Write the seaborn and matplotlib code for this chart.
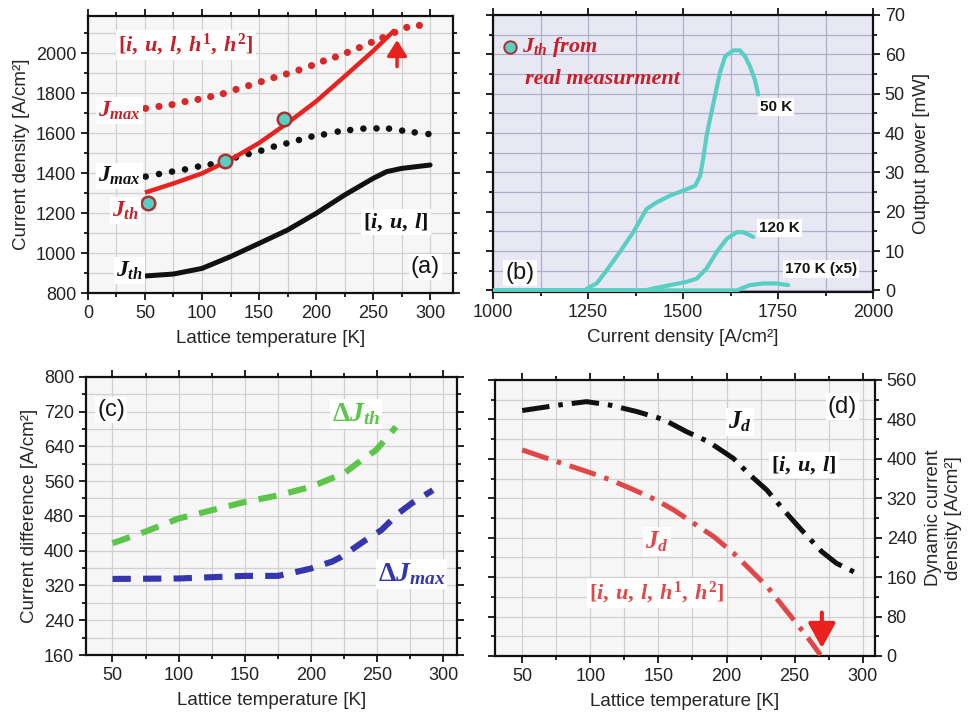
import matplotlib
matplotlib.use("Agg")
import matplotlib.pyplot as plt
from matplotlib.ticker import MultipleLocator
import seaborn as sns

# ---------------- (a) current density vs lattice temperature ----------------
# dotted J_max, model [i, u, l, h1, h2]
a_T_jmax_h = [50.6, 62.3, 73.7, 85.1, 96.5, 107.6, 118.7, 129.8, 140.9, 152, 163, 174,
              185, 196, 206.4, 217, 227.5, 238, 248.5, 258.5, 269, 279.5, 290.6]
a_jmax_h = [1723, 1733, 1742, 1757, 1768, 1782, 1797, 1818, 1837, 1857, 1877, 1895,
            1915, 1937, 1960, 1980, 2003, 2027, 2053, 2077, 2103, 2128, 2138]
# dotted J_max, model [i, u, l]
a_T_jmax_l = [50.6, 62.3, 73.7, 85.1, 96.5, 107.6, 118.7, 129.8, 140.9, 152, 163, 174,
              185, 196, 207, 219, 230, 241.5, 253, 264, 275.5, 286.5, 298.5]
a_jmax_l = [1382, 1395, 1407, 1418, 1432, 1443, 1460, 1478, 1495, 1512, 1532, 1548,
            1565, 1582, 1593, 1607, 1615, 1622, 1623, 1622, 1612, 1603, 1595]
# solid J_th, model [i, u, l, h1, h2]
a_T_jth_h = [50, 75, 100, 125, 150, 175, 200, 225, 250, 269]
a_jth_h = [1302, 1348, 1398, 1467, 1550, 1650, 1758, 1883, 2010, 2115]
# solid J_th, model [i, u, l]
a_T_jth_l = [50, 75, 100, 125, 150, 175, 200, 225, 250, 262, 275, 300]
a_jth_l = [885, 895, 923, 982, 1048, 1115, 1198, 1290, 1373, 1407, 1423, 1440]
# measured thresholds
meas_T = [53, 120, 172]
meas_J = [1248, 1461, 1670]

# ---------------- (b) output power vs current density ----------------
b_j50 = [1000, 1240, 1255, 1273, 1299, 1334, 1369, 1404, 1431, 1466, 1501, 1532, 1545,
         1553, 1562, 1571, 1584, 1597, 1611, 1632, 1650, 1663, 1676, 1689, 1698]
b_p50 = [0, 0, 0.9, 1.8, 5.1, 9.8, 14.8, 20.7, 22.4, 24.1, 25.4, 26.6, 29.1,
         33.4, 39.3, 43.5, 49.4, 55.3, 59.5, 61.0, 61.0, 59.5, 57.0, 53.6, 49.8]
b_j120 = [1000, 1400, 1422, 1466, 1510, 1536, 1562, 1589, 1615, 1641, 1659, 1685]
b_p120 = [0, 0, 0.5, 1.35, 2.2, 3.0, 5.6, 9.8, 13.1, 14.8, 14.8, 13.6]
b_j170 = [1000, 1641, 1676, 1711, 1747, 1777]
b_p170 = [0, 0, 1.35, 1.77, 1.77, 1.35]

# ---------------- (c) current difference ----------------
c_T_th = [50, 75, 100, 125, 150, 175, 200, 225, 238, 249, 262, 264]
c_dth = [417, 444, 474, 493, 512, 527, 547, 578, 608, 631, 677, 685]
c_T_max = [50, 100, 150, 175, 190, 200, 216, 223, 241, 253, 266, 276, 292]
c_dmax = [335, 336, 342, 342, 352, 359, 375, 386, 424, 447, 486, 509, 539]

# ---------------- (d) dynamic current density ----------------
d_T_l = [50, 76.5, 97.3, 114.4, 134, 153.6, 170.7, 186.6, 205, 217.3, 229.5, 243, 255,
         269.8, 280.8, 295.5]
d_jd_l = [498, 509, 516, 509, 496, 480, 455, 435, 401, 367, 337, 293, 256, 212, 188, 168]
d_T_h = [50, 75.7, 97.8, 115, 132, 147.9, 161.4, 176, 190.7, 205.4, 220, 229.8, 239.6,
         249.4, 259.2, 269]
d_jd_h = [418, 394, 374, 357, 337, 317, 296, 269, 242, 208, 168, 141, 107, 73, 39, 2]

RED = "#e8231f"
RED_DOT = "#d8282a"
RED_TXT = "#c81e28"
CYAN = "#58cfc2"
EDGE = "#a83232"
GREEN = "#5cc54a"
BLUE = "#3535b0"
RED_D = "#e04848"
BLACK = "#111111"

sns.set_theme(style="ticks")
plt.rcParams.update({
    "font.family": ["Liberation Sans", "DejaVu Sans"],
    "mathtext.fontset": "custom",
    "mathtext.it": "Liberation Serif:italic:bold",
    "mathtext.rm": "Liberation Serif:bold",
    "mathtext.bf": "Liberation Serif:bold",
    "axes.edgecolor": BLACK,
    "text.color": "#151515",
    "xtick.color": BLACK,
    "ytick.color": BLACK,
    "xtick.labelcolor": "#222222",
    "ytick.labelcolor": "#222222",
})

fig = plt.figure(figsize=(9.74, 7.21), dpi=100)
ax_a = fig.add_axes([0.0903, 0.5936, 0.3747, 0.3842])
ax_b = fig.add_axes([0.5062, 0.5950, 0.3901, 0.3842])
ax_c = fig.add_axes([0.0883, 0.0915, 0.3806, 0.3860])
ax_d = fig.add_axes([0.5082, 0.0902, 0.3901, 0.3828])


def style_axes(ax, face, grid, xmaj, xmin, ymaj, ymin):
    ax.set_facecolor(face)
    ax.xaxis.set_major_locator(MultipleLocator(xmaj))
    ax.xaxis.set_minor_locator(MultipleLocator(xmin))
    ax.yaxis.set_major_locator(MultipleLocator(ymaj))
    ax.yaxis.set_minor_locator(MultipleLocator(ymin))
    ax.grid(which="both", color=grid, linewidth=0.9)
    ax.set_axisbelow(True)
    ax.tick_params(which="both", direction="out", top=True, right=True, width=1.3,
                   labelsize=13)
    ax.tick_params(which="major", length=5)
    ax.tick_params(which="minor", length=3)
    for s in ax.spines.values():
        s.set_visible(True)
        s.set_linewidth(1.6)
        s.set_color(BLACK)


WHITE_BOX = dict(facecolor="white", edgecolor="none", pad=1.5)
BRACKETS_H = r"$[i,\:u,\:l,\:h^1,\:h^2]$"
BRACKETS_L = r"$[i,\:u,\:l]$"

# ---------- (a) ----------
ax = ax_a
style_axes(ax, "#f6f6f6", "#d0d0d0", 50, 25, 200, 100)
sns.lineplot(x=a_T_jth_l, y=a_jth_l, ax=ax, color=BLACK, linewidth=3.6, zorder=3)
ax.lines[-1].set_solid_capstyle("round")
sns.scatterplot(x=a_T_jmax_l, y=a_jmax_l, ax=ax, color=BLACK, s=22, edgecolor="none", zorder=3)
sns.scatterplot(x=a_T_jmax_h, y=a_jmax_h, ax=ax, color=RED_DOT, s=26, edgecolor="none", zorder=3)
sns.lineplot(x=a_T_jth_h, y=a_jth_h, ax=ax, color=RED, linewidth=3.2, zorder=4)
ax.lines[-1].set_solid_capstyle("butt")
sns.scatterplot(x=meas_T, y=meas_J, ax=ax, color=CYAN, s=95, edgecolor=EDGE,
                linewidth=1.8, zorder=5)
ax.annotate("", xy=(271, 2065), xytext=(271, 1932),
            arrowprops=dict(arrowstyle="-|>,head_width=0.6,head_length=0.95",
                            color=RED, lw=2.5, mutation_scale=10,
                            shrinkA=0, shrinkB=0), zorder=6)
ax.set_xlim(0, 320)
ax.set_ylim(800, 2185)
ax.set_xlabel("Lattice temperature [K]", fontsize=13.5, labelpad=6)
ax.set_ylabel("Current density [A/cm\u00b2]", fontsize=13.5, labelpad=4)
ax.text(86, 2040, BRACKETS_H, color=RED_TXT, fontsize=16,
        ha="center", va="center", bbox=WHITE_BOX, zorder=7)
ax.text(9, 1712, r"$J_{max}$", color=RED_TXT, fontsize=17, ha="left", va="center",
        bbox=WHITE_BOX, zorder=7)
ax.text(9, 1385, r"$J_{max}$", color=BLACK, fontsize=17, ha="left", va="center",
        bbox=WHITE_BOX, zorder=7)
ax.text(21, 1212, r"$J_{th}$", color=RED_TXT, fontsize=17, ha="left", va="center",
        bbox=WHITE_BOX, zorder=7)
ax.text(25, 912, r"$J_{th}$", color=BLACK, fontsize=17, ha="left", va="center",
        bbox=WHITE_BOX, zorder=7)
ax.text(270, 1155, BRACKETS_L, color=BLACK, fontsize=16, ha="center",
        va="center", bbox=WHITE_BOX, zorder=7)
ax.text(296, 930, "(a)", fontsize=17, ha="center", va="center", bbox=WHITE_BOX, zorder=7)

# ---------- (b) ----------
ax = ax_b
style_axes(ax, "#e8e8f4", "#aeaec8", 250, 125, 10, 5)
for xs, ys in [(b_j170, b_p170), (b_j120, b_p120), (b_j50, b_p50)]:
    sns.lineplot(x=xs, y=ys, ax=ax, color=CYAN, linewidth=3.0, zorder=3)
    ax.lines[-1].set_solid_capstyle("round")
    ax.lines[-1].set_solid_joinstyle("round")
ax.set_xlim(1000, 2000)
ax.set_ylim(-0.4, 70)
ax.tick_params(labelleft=False, labelright=True)
ax.yaxis.set_label_position("right")
ax.set_xlabel("Current density [A/cm\u00b2]", fontsize=13.5, labelpad=6)
ax.set_ylabel("Output power [mW]", fontsize=13.5, labelpad=6)
sns.scatterplot(x=[1044], y=[61.8], ax=ax, color=CYAN, s=80, edgecolor=EDGE,
                linewidth=1.4, zorder=5)
ax.text(1075, 61.8, r"$J_{th}$ from", color=RED_TXT, fontsize=16, ha="left",
        va="center", fontfamily="Liberation Serif", fontstyle="italic", fontweight="bold")
ax.text(1084, 53.8, "real measurment", color=RED_TXT, fontsize=16, ha="left",
        va="center", fontfamily="Liberation Serif", fontstyle="italic", fontweight="bold")
ax.text(1745, 46.6, "50 K", fontsize=11, fontweight="bold", ha="center", va="center",
        bbox=WHITE_BOX, zorder=7)
ax.text(1753, 15.9, "120 K", fontsize=11, fontweight="bold", ha="center", va="center",
        bbox=WHITE_BOX, zorder=7)
ax.text(1863, 5.4, "170 K (x5)", fontsize=11, fontweight="bold", ha="center",
        va="center", bbox=WHITE_BOX, zorder=7)
ax.text(1071, 4.5, "(b)", fontsize=17, ha="center", va="center", bbox=WHITE_BOX, zorder=7)

# ---------- (c) ----------
ax = ax_c
style_axes(ax, "#f6f6f6", "#d0d0d0", 50, 25, 80, 40)
sns.lineplot(x=c_T_th, y=c_dth, ax=ax, color=GREEN, linewidth=4.4, zorder=3)
ax.lines[-1].set_dashes((3, 2))
sns.lineplot(x=c_T_max, y=c_dmax, ax=ax, color=BLUE, linewidth=4.4, zorder=3)
ax.lines[-1].set_dashes((3, 2))
ax.set_xlim(30, 310)
ax.set_ylim(160, 800)
ax.set_xlabel("Lattice temperature [K]", fontsize=13.5, labelpad=6)
ax.set_ylabel("Current difference [A/cm\u00b2]", fontsize=13.5, labelpad=4)
ax.text(234, 715, r"$\Delta J_{th}$", color=GREEN, fontsize=20, ha="center",
        va="center", bbox=WHITE_BOX, zorder=7)
ax.text(276, 346, r"$\Delta J_{max}$", color=BLUE, fontsize=20, ha="center",
        va="center", bbox=WHITE_BOX, zorder=7)
ax.text(49, 724, "(c)", fontsize=17, ha="center", va="center", bbox=WHITE_BOX, zorder=7)

# ---------- (d) ----------
ax = ax_d
style_axes(ax, "#f6f6f6", "#d0d0d0", 50, 25, 80, 40)
sns.lineplot(x=d_T_l, y=d_jd_l, ax=ax, color=BLACK, linewidth=3.6, zorder=3)
ax.lines[-1].set_dashes((5.5, 1.8, 0.9, 1.8))
sns.lineplot(x=d_T_h, y=d_jd_h, ax=ax, color=RED_D, linewidth=3.6, zorder=3)
ax.lines[-1].set_dashes((5.5, 1.8, 0.9, 1.8))
ax.annotate("", xy=(270, 16), xytext=(270, 88),
            arrowprops=dict(arrowstyle="-|>,head_width=0.55,head_length=1.0",
                            color=RED, lw=3, mutation_scale=15,
                            shrinkA=0, shrinkB=0), zorder=6)
ax.set_xlim(30, 309)
ax.set_ylim(0, 560)
ax.tick_params(labelleft=False, labelright=True)
ax.yaxis.set_label_position("right")
ax.set_xlabel("Lattice temperature [K]", fontsize=13.5, labelpad=6)
ax.set_ylabel("Dynamic current\ndensity [A/cm\u00b2]", fontsize=13.5, labelpad=6)
ax.text(210, 475, r"$J_d$", color=BLACK, fontsize=18, ha="center", va="center",
        bbox=WHITE_BOX, zorder=7)
ax.text(257, 388, BRACKETS_L, color=BLACK, fontsize=16, ha="center",
        va="center", bbox=WHITE_BOX, zorder=7)
ax.text(285, 506, "(d)", fontsize=17, ha="center", va="center", bbox=WHITE_BOX, zorder=7)
ax.text(149, 232, r"$J_d$", color=RED_D, fontsize=18, ha="center", va="center",
        bbox=WHITE_BOX, zorder=7)
ax.text(149, 127, BRACKETS_H, color=RED_D, fontsize=16,
        ha="center", va="center", bbox=WHITE_BOX, zorder=7)

fig.savefig("out.png", dpi=100)
